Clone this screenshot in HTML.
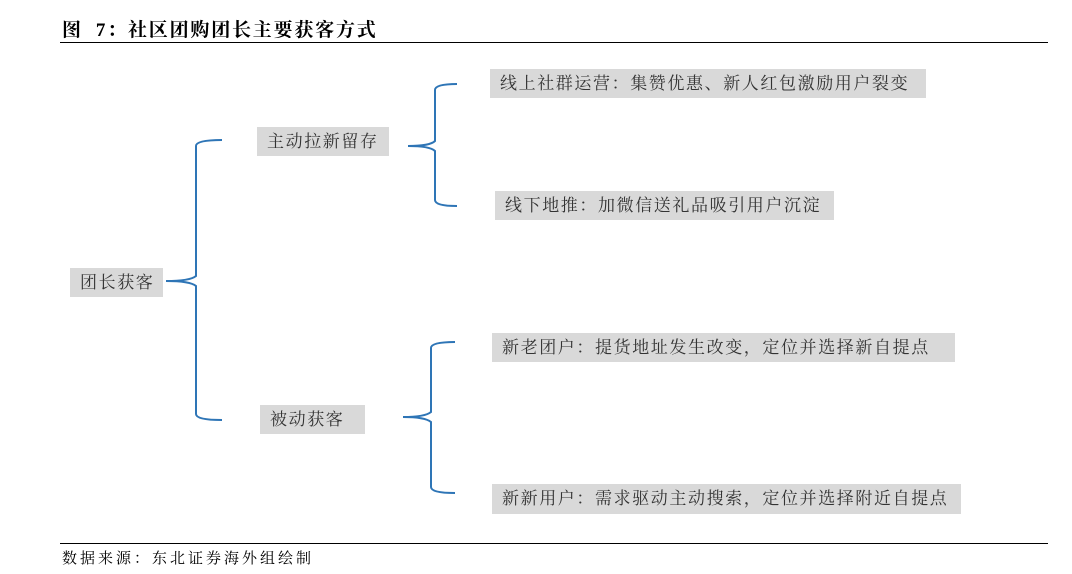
<!DOCTYPE html>
<html><head><meta charset="utf-8"><style>
body{margin:0;width:1072px;height:574px;background:#fff;position:relative;overflow:hidden;font-family:"Liberation Serif","Noto Serif CJK SC",serif}
.t{position:absolute;left:62px;top:15px;font-size:19px;font-weight:bold;color:#000;letter-spacing:1.8px}
.l{position:absolute;left:60px;width:988px;height:1px;background:#000}
.b{position:absolute;background:#d9d9d9;color:#333;font-size:17px;line-height:29px;padding-left:10px;box-sizing:border-box;white-space:nowrap;letter-spacing:1.6px}
.s{position:absolute;left:62px;top:547px;font-size:15px;color:#000;letter-spacing:3px}
svg{position:absolute;left:0;top:0}
</style></head><body>
<div class="t">图&nbsp;&nbsp;7：社区团购团长主要获客方式</div>
<div class="l" style="top:42px"></div>
<div class="l" style="top:543px"></div>
<svg width="1072" height="574" fill="none" stroke="#2e75b6" stroke-width="2">
<path d="M166 281 Q190 281 196 276 L196 146 Q196 140 222 140"/>
<path d="M166 281 Q190 281 196 286 L196 414 Q196 420 222 420"/>
<path d="M408 146 Q430 146 435 141 L435 90 Q435 84 457 84"/>
<path d="M408 146 Q430 146 435 151 L435 200 Q435 206 457 206"/>
<path d="M403 417 Q425 417 431 412 L431 348 Q431 342 455 342"/>
<path d="M403 417 Q425 417 431 422 L431 487 Q431 493 455 493"/>
</svg>
<div class="b" style="left:70px;top:268px;width:93px;height:29px">团长获客</div>
<div class="b" style="left:257px;top:127px;width:132px;height:29px">主动拉新留存</div>
<div class="b" style="left:260px;top:405px;width:105px;height:29px">被动获客</div>
<div class="b" style="left:490px;top:69px;width:436px;height:29px">线上社群运营：集赞优惠、新人红包激励用户裂变</div>
<div class="b" style="left:495px;top:191px;width:339px;height:29px">线下地推：加微信送礼品吸引用户沉淀</div>
<div class="b" style="left:492px;top:333px;width:463px;height:29px">新老团户：提货地址发生改变，定位并选择新自提点</div>
<div class="b" style="left:492px;top:484px;width:469px;height:30px">新新用户：需求驱动主动搜索，定位并选择附近自提点</div>
<div class="s">数据来源：东北证券海外组绘制</div>
</body></html>
